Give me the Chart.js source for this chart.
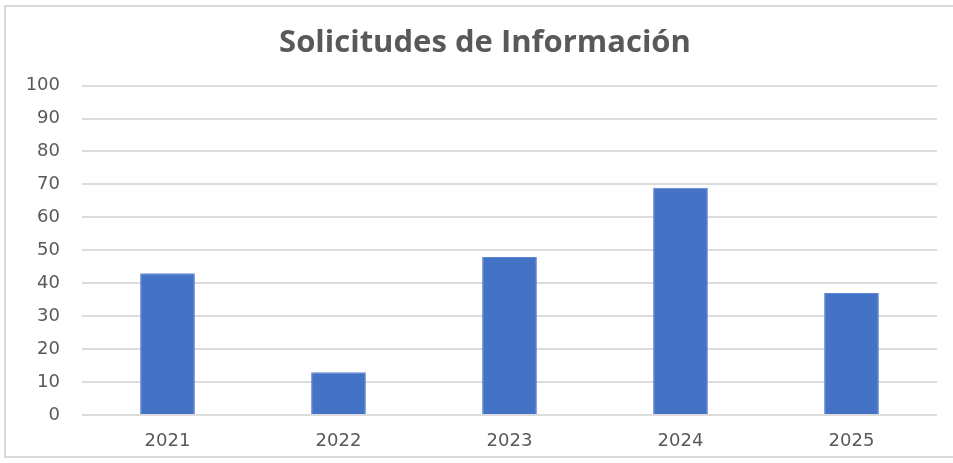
<!DOCTYPE html>
<html>
<head>
<meta charset="utf-8">
<script src="https://cdn.jsdelivr.net/npm/chart.js@4"></script>
<style>
  html, body { margin: 0; padding: 0; background: #fff; }
  .wrap { position: relative; width: 953px; height: 463px; }
  .frame {
    position: absolute; left: 4px; top: 5px; width: 960px; height: 453px;
    border: 2px solid #d9d9d9; box-sizing: border-box;
  }
  canvas { position: absolute; left: 0; top: 0; }
</style>
</head>
<body>
<div class="wrap">
  <div class="frame"></div>
  <canvas id="myChart" width="953" height="463"></canvas>
</div>
<script>
const years = ["2021", "2022", "2023", "2024", "2025"];
const solicitudes = [43, 13, 48, 69, 37];
const yTicks = [0, 10, 20, 30, 40, 50, 60, 70, 80, 90, 100];
const chartTitle = "Solicitudes de Información";

const gray = "#595959";

// the title sits centred on the whole frame, not on the chart area
const frameTitle = {
  id: "frameTitle",
  afterDraw(chart) {
    const ctx = chart.ctx;
    ctx.save();
    ctx.font = "bold 31px 'Open Sans'";
    ctx.fillStyle = gray;
    ctx.textAlign = "center";
    ctx.textBaseline = "middle";
    ctx.fillText(chartTitle, 485, 43);
    ctx.restore();
  }
};

new Chart("myChart", {
  type: "bar",
  data: {
    labels: years,
    datasets: [{
      label: "Solicitudes",
      data: solicitudes,
      backgroundColor: "#4472C4",
      borderColor: "#5b86d4",
      borderWidth: 1,
      categoryPercentage: 1,
      barPercentage: 0.32
    }]
  },
  options: {
    responsive: false,
    animation: false,
    layout: { padding: { left: 0, right: 16, top: 0, bottom: 0 } },
    plugins: {
      legend: { display: false },
      tooltip: { enabled: false },
      title: {
        display: true,
        text: chartTitle,
        color: "rgba(0,0,0,0)",
        font: { family: "Open Sans", size: 28, weight: "bold" },
        padding: { top: 24, bottom: 28 }
      }
    },
    scales: {
      x: {
        grid: { display: false, drawTicks: false },
        border: { display: false },
        ticks: { color: gray, font: { family: "DejaVu Sans", size: 18 }, padding: 16 },
        afterFit(scale) { scale.height = 48; }
      },
      y: {
        min: 0,
        max: 100,
        afterBuildTicks(scale) { scale.ticks = yTicks.map(v => ({ value: v })); },
        grid: { color: "#dcdcdc", lineWidth: 2, drawTicks: false },
        border: { display: false },
        ticks: { color: gray, font: { family: "DejaVu Sans", size: 18 }, padding: 22 },
        afterFit(scale) { scale.width = 82; }
      }
    }
  },
  plugins: [frameTitle]
});
</script>
</body>
</html>
